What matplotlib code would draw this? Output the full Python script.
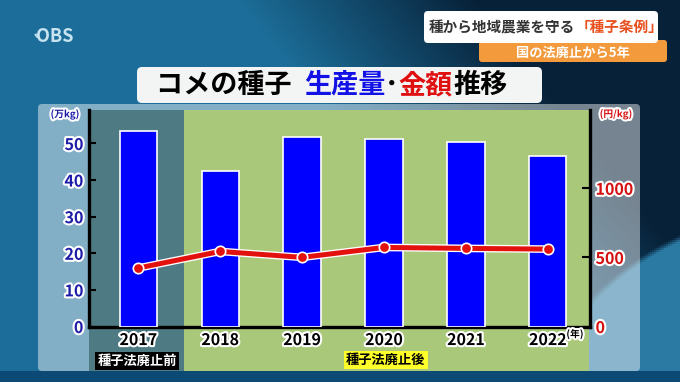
import numpy as np
import matplotlib
matplotlib.use('Agg')
import matplotlib.pyplot as plt
import matplotlib.patheffects as pe
from matplotlib.patches import FancyBboxPatch, Rectangle, Arc

years = ['2017', '2018', '2019', '2020', '2021', '2022']
volume = [53.3, 42.5, 51.9, 51.2, 50.3, 46.7]   # 万kg
price = [423, 543, 500, 572, 565, 560]          # 円/kg
left_ticks = [0, 10, 20, 30, 40, 50]
right_ticks = [0, 500, 1000]

plt.rcParams['font.family'] = ['Noto Sans CJK JP', 'DejaVu Sans']
plt.rcParams['font.weight'] = 'bold'

W, H = 680, 382
fig = plt.figure(figsize=(6.8, 3.82), dpi=100)

# background layer in pixel coordinates
bg = fig.add_axes([0, 0, 1, 1], zorder=0)
bg.set_xlim(0, W)
bg.set_ylim(H, 0)
bg.set_axis_off()

px_x, px_y = np.meshgrid(np.linspace(0, W, 340), np.linspace(0, H, 191))
c_left = np.array([0.11, 0.43, 0.60])
c_dark = np.array([0.03, 0.13, 0.22])
c_swirl = np.array([0.17, 0.48, 0.64])
m = np.clip((px_x / W - 0.35 - 0.45 * px_y / H) / 0.35, 0, 1)[..., None]
img = c_left * (1 - m) + c_dark * m
d = np.hypot(px_x - 800, px_y - 500)
s = np.clip((290 - d) / 6, 0, 1)[..., None]
img = img * (1 - s) + c_swirl * s
bg.imshow(img, extent=[0, W, H, 0], aspect='auto', zorder=0)
bg.add_patch(Rectangle((0, 371), W, 11, fc='#0c4a75', ec='none', zorder=1))

# chart panel and shaded periods
bg.add_patch(FancyBboxPatch((38, 104), 602, 267, boxstyle='round,pad=0,rounding_size=4',
                            fc='white', alpha=0.45, ec='none', zorder=2))
bg.add_patch(Rectangle((89, 110), 95, 261, fc='#4e7a84', ec='none', zorder=3))
bg.add_patch(Rectangle((184, 110), 405, 261, fc='#a9c87a', ec='none', zorder=3))

# logo
bg.text(36, 37, 'OBS', fontsize=13, color='#c8e4f0', va='center', ha='left', zorder=5)
for r in (7, 10):
    bg.add_patch(Arc((40, 33), r, r, theta1=100, theta2=170, color='#c8e4f0', lw=1, zorder=5))

# top right caption
bg.add_patch(FancyBboxPatch((479, 40), 188, 22, boxstyle='round,pad=0,rounding_size=3',
                            fc='#f39a3c', ec='none', zorder=4))
bg.add_patch(FancyBboxPatch((424, 11), 234, 32, boxstyle='round,pad=0,rounding_size=4',
                            fc='white', ec='none', zorder=5))
bg.text(573, 52.5, '国の法廃止から5年', fontsize=9.5, color='white', ha='center', va='center', zorder=6)

# title box
bg.add_patch(FancyBboxPatch((137, 67), 405, 36, boxstyle='round,pad=0,rounding_size=5',
                            fc='#f3f5f5', ec='none', zorder=4))

fig.canvas.draw()
renderer = fig.canvas.get_renderer()


def put_pieces(pieces, x, y, size):
    for txt, col in pieces:
        t = bg.text(x, y, txt, fontsize=size, color=col, ha='left', va='center', zorder=6)
        x += t.get_window_extent(renderer).width


put_pieces([('種から地域農業を守る', '#333333'), ('「種子条例」', '#e8501e')], 429, 27, 10.5)
put_pieces([('コメの種子  ', 'black'), ('生産量', '#1212e6'), ('･', 'black'),
            ('金額', '#e01010'), ('推移', 'black')], 156, 85, 19.5)

# main chart
ax = fig.add_axes([89 / W, 1 - 326.5 / H, 501 / W, 216.5 / H], zorder=2)
ax.set_facecolor('none')
x = np.arange(len(years))
ax.bar(x, volume, width=0.456, color='#0000ff', edgecolor='white', linewidth=1.2, zorder=3)
ax.set_xlim(-0.602, 5.515)
ax.set_ylim(0, 59.15)

white_edge = [pe.withStroke(linewidth=3, foreground='white')]

ax.set_yticks(left_ticks)
ax.set_xticks(x, years)
ax.tick_params(axis='y', direction='in', length=5, width=1.5, pad=4, labelsize=11.5,
               labelcolor='#1c1ca8')
ax.tick_params(axis='x', length=0, pad=4, labelsize=11.5, labelcolor='black')
for lab in ax.get_yticklabels() + ax.get_xticklabels():
    lab.set_path_effects(white_edge)
for side in ('top', 'right'):
    ax.spines[side].set_visible(False)
for side in ('left', 'bottom'):
    ax.spines[side].set_linewidth(2.4)
    ax.spines[side].set_color('black')

ax2 = ax.twinx()
ax2.set_ylim(0, 1566)
ax2.plot(x, price, color='#e2110e', lw=3.6, zorder=4,
         path_effects=[pe.Stroke(linewidth=5.5, foreground='white'), pe.Normal()])
ax2.plot(x, price, ls='none', marker='o', ms=7.5, mfc='#e2110e', mec='white', mew=1.2, zorder=5)
ax2.set_yticks(right_ticks)
ax2.tick_params(axis='y', direction='in', length=6, width=1.5, pad=4, labelsize=11.5,
                labelcolor='#d41010')
for lab in ax2.get_yticklabels():
    lab.set_path_effects(white_edge)
for side in ('top', 'left', 'bottom'):
    ax2.spines[side].set_visible(False)
ax2.spines['right'].set_linewidth(2.4)
ax2.spines['right'].set_color('black')

# units and period labels
fig.text(65 / W, 1 - 114 / H, '(万kg)', fontsize=7, color='#1c1ca8', ha='center', va='center',
         path_effects=white_edge, zorder=6)
fig.text(616 / W, 1 - 114 / H, '(円/kg)', fontsize=7, color='#d41010', ha='center', va='center',
         path_effects=white_edge, zorder=6)
fig.text(575 / W, 1 - 334 / H, '(年)', fontsize=7, color='black', ha='center', va='center',
         path_effects=white_edge, zorder=6)
fig.text(137 / W, 1 - 361 / H, '種子法廃止前', fontsize=9.5, color='white', ha='center', va='center',
         bbox=dict(boxstyle='square,pad=0.15', fc='black', ec='none'), zorder=6)
fig.text(386 / W, 1 - 360 / H, '種子法廃止後', fontsize=9.5, color='black', ha='center', va='center',
         bbox=dict(boxstyle='square,pad=0.15', fc='#ffff2a', ec='none'), zorder=6)

fig.savefig('out.png', dpi=100)
